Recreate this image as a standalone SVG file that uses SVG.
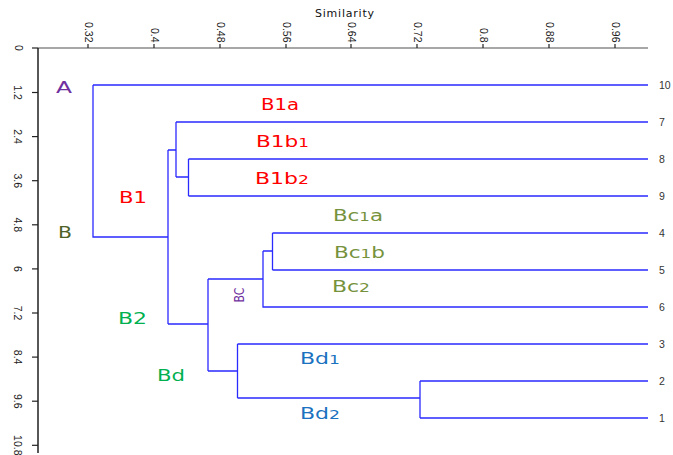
<svg xmlns="http://www.w3.org/2000/svg" width="673" height="455" viewBox="0 0 673 455">
  <style>
    .tick { font-family: "Liberation Sans", Arial, sans-serif; font-size: 10.5px; fill: #222; }
    .leaf { font-family: "Liberation Sans", Arial, sans-serif; font-size: 10.5px; fill: #333; }
    .title { font-family: "DejaVu Sans", Verdana, sans-serif; font-size: 11px; fill: #111; }
    .lbl { font-family: "DejaVu Sans", Verdana, sans-serif; font-size: 16px; }
    .sm { font-size: 12.5px; }
    .tree { fill: none; stroke: #2a2aff; stroke-width: 1.3; }
    .red { fill: #ff0000; }
    .purple { fill: #7030a0; }
    .olive { fill: #4f6228; }
    .green { fill: #00b050; }
    .khaki { fill: #76923c; }
    .blue { fill: #1a72c0; }
  </style>
  <rect width="673" height="455" fill="#ffffff"/>

  <!-- axes -->
  <g id="axes">
    <text class="title" x="315" y="17" textLength="59" lengthAdjust="spacing">Similarity</text>
    <line x1="38" y1="48" x2="648" y2="48" stroke="#8a8a8a" stroke-width="1.4"/>
    <line x1="38" y1="48" x2="38" y2="453" stroke="#111" stroke-width="1.4"/>
    <g stroke="#222" stroke-width="1.2">
      <line x1="88" y1="44" x2="88" y2="48"/>
      <line x1="154" y1="44" x2="154" y2="48"/>
      <line x1="220" y1="44" x2="220" y2="48"/>
      <line x1="286" y1="44" x2="286" y2="48"/>
      <line x1="351" y1="44" x2="351" y2="48"/>
      <line x1="417" y1="44" x2="417" y2="48"/>
      <line x1="483" y1="44" x2="483" y2="48"/>
      <line x1="549" y1="44" x2="549" y2="48"/>
      <line x1="615" y1="44" x2="615" y2="48"/>
      <line x1="32" y1="48" x2="38" y2="48"/>
      <line x1="32" y1="92.5" x2="38" y2="92.5"/>
      <line x1="32" y1="136.6" x2="38" y2="136.6"/>
      <line x1="32" y1="180.7" x2="38" y2="180.7"/>
      <line x1="32" y1="224.8" x2="38" y2="224.8"/>
      <line x1="32" y1="268.9" x2="38" y2="268.9"/>
      <line x1="32" y1="313" x2="38" y2="313"/>
      <line x1="32" y1="357.1" x2="38" y2="357.1"/>
      <line x1="32" y1="401.2" x2="38" y2="401.2"/>
      <line x1="32" y1="445.3" x2="38" y2="445.3"/>
    </g>
    <!-- top tick labels, rotated -->
    <g class="tick" text-anchor="end">
      <text transform="translate(84.5,42.5) rotate(90)">0.32</text>
      <text transform="translate(150.5,42.5) rotate(90)">0.4</text>
      <text transform="translate(216.5,42.5) rotate(90)">0.48</text>
      <text transform="translate(282.5,42.5) rotate(90)">0.56</text>
      <text transform="translate(347.5,42.5) rotate(90)">0.64</text>
      <text transform="translate(413.5,42.5) rotate(90)">0.72</text>
      <text transform="translate(479.5,42.5) rotate(90)">0.8</text>
      <text transform="translate(545.5,42.5) rotate(90)">0.88</text>
      <text transform="translate(611.5,42.5) rotate(90)">0.96</text>
    </g>
    <!-- left tick labels, rotated -->
    <g class="tick" text-anchor="middle">
      <text transform="translate(14.5,48) rotate(90)">0</text>
      <text transform="translate(13.5,92.5) rotate(90)">1.2</text>
      <text transform="translate(13.5,136.6) rotate(90)">2.4</text>
      <text transform="translate(13.5,180.7) rotate(90)">3.6</text>
      <text transform="translate(13.5,224.8) rotate(90)">4.8</text>
      <text transform="translate(13.5,268.9) rotate(90)">6</text>
      <text transform="translate(13.5,313) rotate(90)">7.2</text>
      <text transform="translate(13.5,357.1) rotate(90)">8.4</text>
      <text transform="translate(13.5,401.2) rotate(90)">9.6</text>
      <text transform="translate(13.5,445.3) rotate(90)">10.8</text>
    </g>
  </g>

  <!-- dendrogram branches -->
  <g id="connectors" class="tree">
    <path d="M93,85 H648 M93,85 V237 H168"/>
    <path d="M168,150 V324 M168,150 H176"/>
    <path d="M176,122 V177 M176,122 H648 M176,177 H188.5"/>
    <path d="M188.5,159 V196 M188.5,159 H648 M188.5,196 H648"/>
    <path d="M168,324 H208 M208,279 V371 M208,279 H263"/>
    <path d="M263,251 V307 H648 M263,251 H272.5"/>
    <path d="M272.5,233 V270 M272.5,233 H648 M272.5,270 H648"/>
    <path d="M208,371 H237.5 M237.5,344 V398 M237.5,344 H648 M237.5,398 H420"/>
    <path d="M420,381 V418 M420,381 H648 M420,418 H648"/>
  </g>

  <!-- leaf numbers -->
  <g id="leaves" class="leaf">
    <text id="leaf-10" x="659" y="89">10</text>
    <text id="leaf-7" x="659" y="126">7</text>
    <text id="leaf-8" x="659" y="163">8</text>
    <text id="leaf-9" x="659" y="200">9</text>
    <text id="leaf-4" x="659" y="237">4</text>
    <text id="leaf-5" x="659" y="274">5</text>
    <text id="leaf-6" x="659" y="311">6</text>
    <text id="leaf-3" x="659" y="348">3</text>
    <text id="leaf-2" x="659" y="385">2</text>
    <text id="leaf-1" x="659" y="422">1</text>
  </g>

  <!-- cluster labels -->
  <g id="node-A"><text class="lbl purple" x="56" y="93" textLength="16" lengthAdjust="spacingAndGlyphs">A</text></g>
  <g id="node-B"><text class="lbl olive" x="58" y="237.5" textLength="14" lengthAdjust="spacingAndGlyphs">B</text></g>
  <g id="node-B1"><text class="lbl red" x="119" y="203" textLength="28" lengthAdjust="spacingAndGlyphs">B1</text></g>
  <g id="node-B1a"><text class="lbl red" x="261" y="110" textLength="38" lengthAdjust="spacingAndGlyphs">B1a</text></g>
  <g id="node-B1b1"><text class="lbl red" x="256" y="147" textLength="53" lengthAdjust="spacingAndGlyphs">B1b<tspan class="sm">1</tspan></text></g>
  <g id="node-B1b2"><text class="lbl red" x="255" y="184" textLength="54" lengthAdjust="spacingAndGlyphs">B1b<tspan class="sm">2</tspan></text></g>
  <g id="node-B2"><text class="lbl green" x="118" y="324" textLength="29" lengthAdjust="spacingAndGlyphs">B2</text></g>
  <g id="node-Bd"><text class="lbl green" x="157" y="381" textLength="28" lengthAdjust="spacingAndGlyphs">Bd</text></g>
  <g id="node-BC"><text class="purple" font-family="DejaVu Sans, Verdana, sans-serif" font-size="14" text-anchor="middle" transform="translate(243.5,295) rotate(-90)" textLength="15" lengthAdjust="spacingAndGlyphs">BC</text></g>
  <g id="node-Bc1a"><text class="lbl khaki" x="333" y="221" textLength="50" lengthAdjust="spacingAndGlyphs">Bc<tspan class="sm">1</tspan>a</text></g>
  <g id="node-Bc1b"><text class="lbl khaki" x="334" y="258" textLength="51" lengthAdjust="spacingAndGlyphs">Bc<tspan class="sm">1</tspan>b</text></g>
  <g id="node-Bc2"><text class="lbl khaki" x="332" y="292" textLength="38" lengthAdjust="spacingAndGlyphs">Bc<tspan class="sm">2</tspan></text></g>
  <g id="node-Bd1"><text class="lbl blue" x="300" y="364" textLength="40" lengthAdjust="spacingAndGlyphs">Bd<tspan class="sm">1</tspan></text></g>
  <g id="node-Bd2"><text class="lbl blue" x="300" y="419" textLength="40" lengthAdjust="spacingAndGlyphs">Bd<tspan class="sm">2</tspan></text></g>
</svg>
